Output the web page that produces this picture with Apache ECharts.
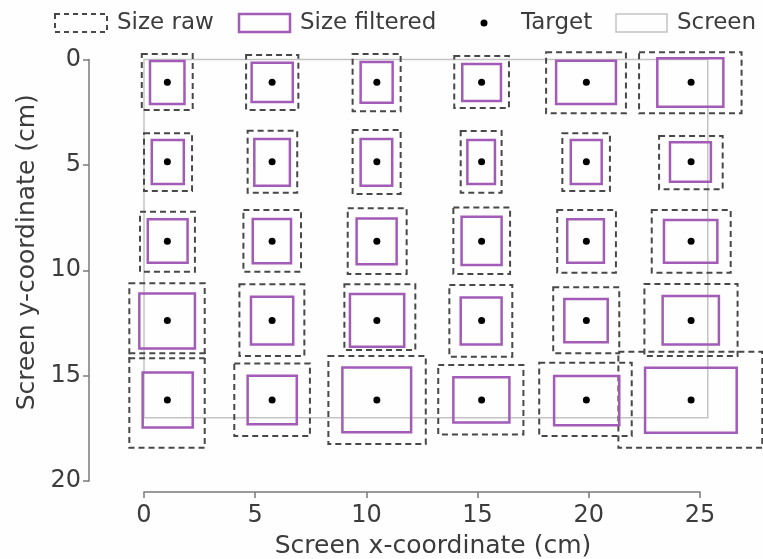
<!DOCTYPE html>
<html><head><meta charset="utf-8">
<script src="https://cdn.jsdelivr.net/npm/echarts@6/dist/echarts.min.js"></script>
<style>html,body{margin:0;padding:0;background:#fff}#c{width:763px;height:559px}</style>
</head><body><div id="c"></div>
<script>
// Tick values
const xTicks = [0, 5, 10, 15, 20, 25];
const yTicks = [0, 5, 10, 15, 20];
// Target positions (cm)
const targetX = [1.05, 5.76, 10.47, 15.18, 19.89, 24.6];
const targetY = [1.08, 4.85, 8.62, 12.39, 16.16];
// Raw size boxes [xmin, xmax, ymin, ymax] (cm), row by row
const rawBoxes = [
  [-0.10, 2.19, -0.26, 2.40], [4.59, 6.94, -0.21, 2.40], [9.38, 11.54, -0.26, 2.46], [13.95, 16.41, -0.17, 2.30], [18.08, 21.67, -0.34, 2.55], [22.26, 26.87, -0.34, 2.55],
  [0.00, 2.16, 3.50, 6.24], [4.66, 6.89, 3.38, 6.32], [9.38, 11.54, 3.35, 6.38], [14.24, 16.08, 3.39, 6.32], [18.81, 20.95, 3.50, 6.24], [23.16, 26.02, 3.63, 6.16],
  [-0.18, 2.29, 7.22, 10.07], [4.47, 7.06, 7.14, 10.07], [9.16, 11.81, 7.06, 10.18], [13.91, 16.46, 7.02, 10.18], [18.58, 21.22, 7.14, 10.12], [22.83, 26.38, 7.14, 10.12],
  [-0.66, 2.73, 10.62, 14.18], [4.29, 7.21, 10.67, 14.07], [9.01, 12.20, 10.67, 13.79], [13.73, 16.56, 10.70, 14.10], [18.40, 21.37, 10.81, 13.94], [22.50, 26.69, 10.65, 14.07],
  [-0.66, 2.73, 13.94, 18.42], [4.06, 7.46, 14.42, 17.87], [8.29, 12.67, 14.07, 18.25], [13.23, 17.06, 14.50, 17.79], [17.77, 21.93, 14.39, 17.87], [21.33, 27.80, 13.87, 18.42]
];
// Filtered size boxes [xmin, xmax, ymin, ymax] (cm)
const filteredBoxes = [
  [0.27, 1.82, 0.07, 2.11], [4.84, 6.69, 0.15, 2.02], [9.74, 11.18, 0.12, 2.05], [14.31, 16.05, 0.21, 1.97], [18.53, 21.22, 0.06, 2.11], [23.08, 26.05, -0.06, 2.24],
  [0.35, 1.79, 3.82, 5.91], [4.96, 6.56, 3.77, 5.99], [9.74, 11.16, 3.77, 5.99], [14.54, 15.78, 3.82, 5.91], [19.19, 20.58, 3.82, 5.91], [23.65, 25.49, 3.93, 5.80],
  [0.17, 1.96, 7.58, 9.64], [4.89, 6.61, 7.57, 9.67], [9.56, 11.36, 7.54, 9.71], [14.28, 16.08, 7.46, 9.75], [19.03, 20.68, 7.58, 9.64], [23.38, 25.78, 7.62, 9.64],
  [-0.21, 2.29, 11.10, 13.71], [4.81, 6.71, 11.26, 13.52], [9.26, 11.70, 11.13, 13.63], [14.24, 16.08, 11.29, 13.52], [18.90, 20.85, 11.37, 13.42], [23.32, 25.85, 11.22, 13.52],
  [-0.06, 2.19, 14.85, 17.46], [4.66, 6.87, 15.01, 17.31], [8.92, 12.01, 14.61, 17.69], [13.91, 16.43, 15.08, 17.22], [18.44, 21.37, 15.02, 17.35], [22.53, 26.65, 14.63, 17.71]
];
// Screen outline [xmin, xmax, ymin, ymax] (cm)
const screenBox = [[0, 25.35, 0, 17]];

const legendLabels = ['Size raw', 'Size filtered', 'Target', 'Screen'];
const FONT = 'DejaVu Sans';
const TXT = '#3c3c3c';
const RAW_C = '#484848';
const FIL_C = '#a35bb8';
const SCR_C = '#c4c4c4';

const targets = [];
targetY.forEach(y => targetX.forEach(x => targets.push([x, y])));

function rectSeries(name, boxes, style, z) {
  return {
    type: 'custom', name: name, coordinateSystem: 'cartesian2d', clip: false, z: z,
    data: boxes, encode: { x: [0, 1], y: [2, 3] },
    renderItem: function (params, api) {
      const p1 = api.coord([api.value(0), api.value(2)]);
      const p2 = api.coord([api.value(1), api.value(3)]);
      return {
        type: 'rect',
        shape: { x: Math.min(p1[0], p2[0]), y: Math.min(p1[1], p2[1]), width: Math.abs(p2[0] - p1[0]), height: Math.abs(p2[1] - p1[1]) },
        style: Object.assign({ fill: 'none' }, style)
      };
    }
  };
}

const chart = echarts.init(document.getElementById('c'), null, { renderer: 'canvas' });
const axisCommon = {
  type: 'value', splitLine: { show: false },
  axisLine: { show: true, onZero: false, lineStyle: { color: '#7a7a7a', width: 1.5 } },
  axisTick: { show: true, length: 6, lineStyle: { color: '#7a7a7a', width: 1.5 } },
  axisLabel: { fontFamily: FONT, fontSize: 24, color: TXT, margin: 8 },
  nameLocation: 'middle',
  nameTextStyle: { fontFamily: FONT, fontSize: 25, color: TXT }
};
const legendY = 23;
const legendText = (x, t) => ({ type: 'text', x: x, y: legendY, style: { text: t, fontFamily: FONT, fontSize: 23, fill: TXT, verticalAlign: 'middle' } });
chart.setOption({
  backgroundColor: '#fefefe',
  animation: false,
  grid: { left: 144, right: 63, top: 59.5, bottom: 78, containLabel: false, outerBoundsMode: 'none' },
  xAxis: Object.assign({}, axisCommon, {
    min: xTicks[0], max: xTicks[xTicks.length - 1], interval: 5, offset: 11,
    axisLabel: Object.assign({}, axisCommon.axisLabel, { margin: 12 }),
    name: 'Screen x-coordinate (cm)', nameGap: 42,
    nameTextStyle: Object.assign({}, axisCommon.nameTextStyle, { padding: [0, 0, 0, 22] })
  }),
  yAxis: Object.assign({}, axisCommon, {
    min: yTicks[0], max: yTicks[yTicks.length - 1], interval: 5, inverse: true, offset: 55,
    name: 'Screen y-coordinate (cm)', nameGap: 46,
    nameTextStyle: Object.assign({}, axisCommon.nameTextStyle, { padding: [0, 0, 0, 36] })
  }),
  series: [
    rectSeries('Screen', screenBox, { stroke: SCR_C, lineWidth: 1.5 }, 1),
    rectSeries('Size raw', rawBoxes, { stroke: RAW_C, lineWidth: 2, lineDash: [6, 4] }, 2),
    rectSeries('Size filtered', filteredBoxes, { stroke: FIL_C, lineWidth: 2.5 }, 3),
    { type: 'scatter', name: 'Target', data: targets, symbol: 'circle', symbolSize: 7, itemStyle: { color: '#000', opacity: 1 }, z: 4 }
  ],
  graphic: [
    { type: 'rect', shape: { x: 55, y: 14, width: 52, height: 18 }, style: { fill: 'none', stroke: RAW_C, lineWidth: 2, lineDash: [5, 4] } },
    legendText(117, legendLabels[0]),
    { type: 'rect', shape: { x: 239, y: 14, width: 51, height: 18 }, style: { fill: 'none', stroke: FIL_C, lineWidth: 2.5 } },
    legendText(300, legendLabels[1]),
    { type: 'circle', shape: { cx: 484, cy: legendY, r: 3.5 }, style: { fill: '#000' } },
    legendText(521, legendLabels[2]),
    { type: 'rect', shape: { x: 616, y: 14, width: 51, height: 18 }, style: { fill: 'none', stroke: SCR_C, lineWidth: 1.5 } },
    legendText(677, legendLabels[3])
  ]
});
</script></body></html>
